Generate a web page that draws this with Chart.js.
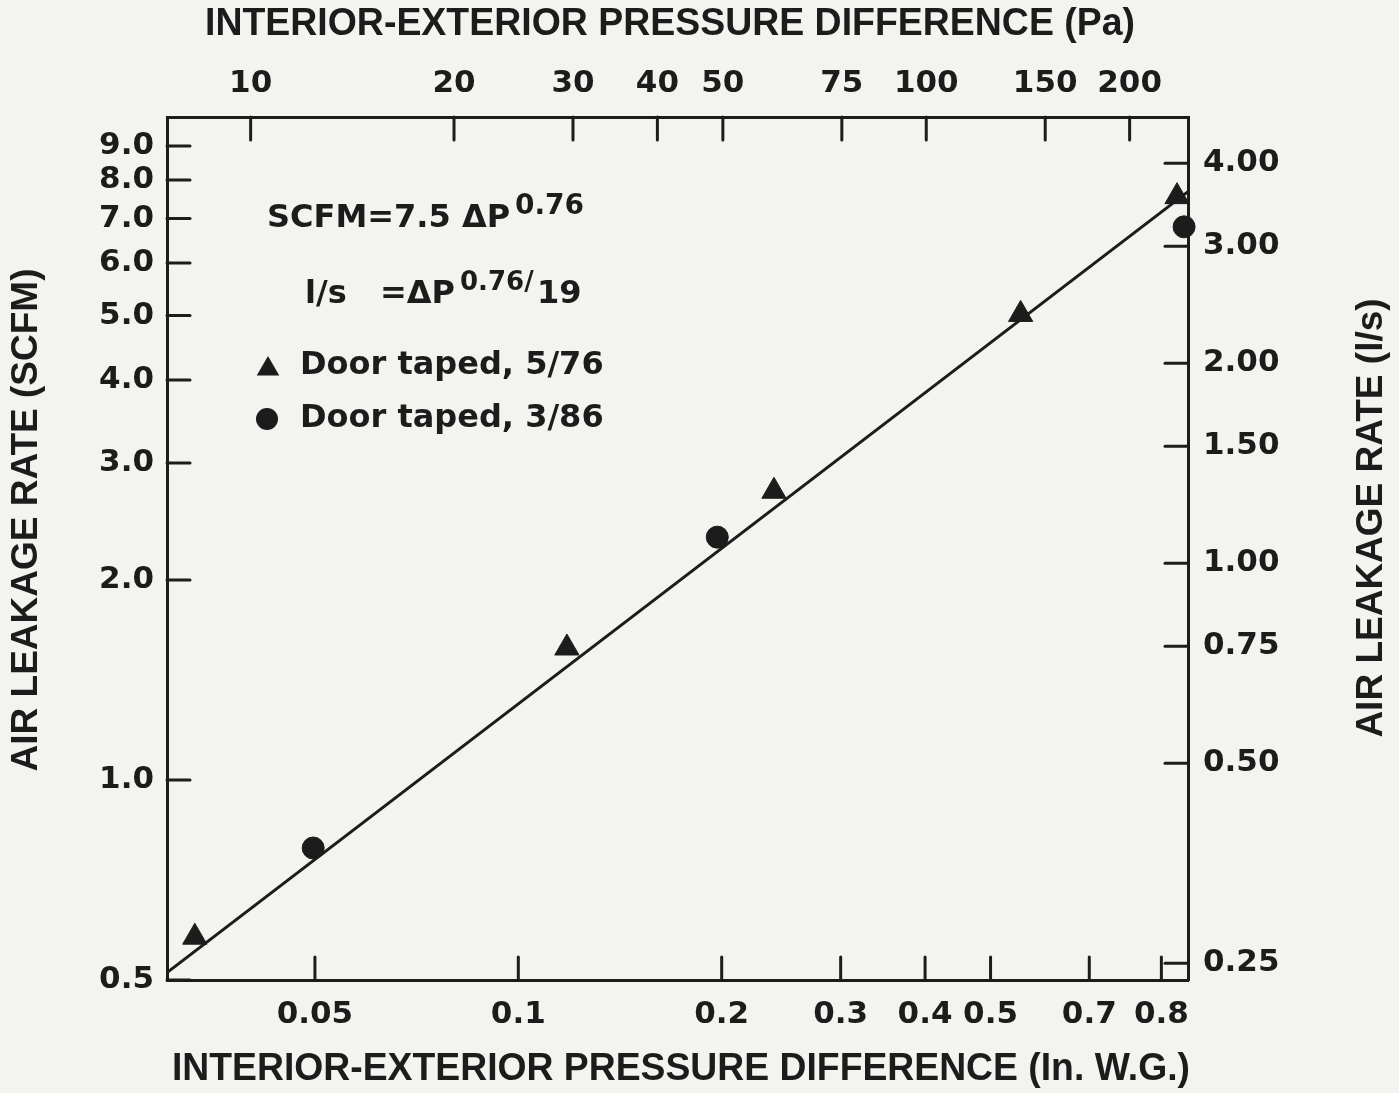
<!DOCTYPE html>
<html>
<head>
<meta charset="utf-8">
<script src="https://cdn.jsdelivr.net/npm/chart.js@4.4.0/dist/chart.umd.min.js"></script>
<style>
  html, body { margin: 0; padding: 0; background: #f3f3ef; }
  #contenedor { width: 1399px; height: 1093px; }
</style>
</head>
<body>
<div id="contenedor"><canvas id="grafico" width="1399" height="1093"></canvas></div>
<script>
// measured points (in. W.G. vs SCFM)
const taped76X = [0.0332, 0.118, 0.239, 0.554, 0.944];
const taped76Y = [0.58, 1.58, 2.72, 5.02, 7.55];
const taped86X = [0.0497, 0.197, 0.967];
const taped86Y = [0.79, 2.32, 6.8];
// fitted line end points
const fitX = [0.0302, 0.98];
const fitY = [0.513, 7.68];

// the original's "0.8" mark sits where 0.895 falls on the log axis
const inchTicks = [0.05, 0.1, 0.2, 0.3, 0.4, 0.5, 0.7, 0.895];
const inchLabels = ['0.05', '0.1', '0.2', '0.3', '0.4', '0.5', '0.7', '0.8'];
const paTicks = [10, 20, 30, 40, 50, 75, 100, 150, 200];
const paLabels = ['10', '20', '30', '40', '50', '75', '100', '150', '200'];
const scfmTicks = [0.5, 1, 2, 3, 4, 5, 6, 7, 8, 9];
const scfmLabels = ['0.5', '1.0', '2.0', '3.0', '4.0', '5.0', '6.0', '7.0', '8.0', '9.0'];
const lpsTicks = [0.25, 0.5, 0.75, 1, 1.5, 2, 3, 4];
const lpsLabels = ['0.25', '0.50', '0.75', '1.00', '1.50', '2.00', '3.00', '4.00'];

const inchRange = [0.0302, 0.98];
const scfmRange = [0.5, 9.95];
const PA_PER_INCH = 249;
const LPS_PER_SCFM = 0.4719;

const INK = '#1c1c1c';
const TICK_FONT = { family: 'DejaVu Sans', weight: 'bold', size: 31 };
const TICK_LEN = 23;

function axis(pos, range, ticks, labels, pad, size) {
  return {
    type: 'logarithmic',
    position: pos,
    min: range[0],
    max: range[1],
    afterBuildTicks: s => { s.ticks = ticks.map(v => ({ value: v })); },
    afterFit: s => { if (s.isHorizontal()) s.height = size; else s.width = size; },
    grid: { display: true, drawOnChartArea: false, drawTicks: false },
    border: { display: true, color: INK, width: 3 },
    ticks: {
      autoSkip: false, maxRotation: 0, minRotation: 0, padding: pad,
      color: INK, font: TICK_FONT,
      callback: (v, i) => labels[i]
    },
    title: { display: false }
  };
}

function tri(ctx, x, y, r) {
  ctx.beginPath();
  ctx.moveTo(x, y - r);
  ctx.lineTo(x + r * 0.866, y + r / 2);
  ctx.lineTo(x - r * 0.866, y + r / 2);
  ctx.closePath();
  ctx.fill();
}

const inkPlugin = {
  id: 'ink',
  afterDraw(chart) {
    const ctx = chart.ctx, a = chart.chartArea, sc = chart.scales;
    ctx.save();
    ctx.strokeStyle = INK;
    ctx.fillStyle = INK;
    ctx.lineWidth = 3;
    ctx.lineCap = 'round';

    // inward tick marks
    const marks = (scale, side) => {
      scale.ticks.forEach(t => {
        const p = scale.getPixelForValue(t.value);
        ctx.beginPath();
        if (side === 'bottom') { ctx.moveTo(p, a.bottom); ctx.lineTo(p, a.bottom - TICK_LEN); }
        if (side === 'top') { ctx.moveTo(p, a.top); ctx.lineTo(p, a.top + TICK_LEN); }
        if (side === 'left') { ctx.moveTo(a.left, p); ctx.lineTo(a.left + TICK_LEN, p); }
        if (side === 'right') { ctx.moveTo(a.right, p); ctx.lineTo(a.right - TICK_LEN, p); }
        ctx.stroke();
      });
    };
    marks(sc.x, 'bottom');
    marks(sc.x2, 'top');
    marks(sc.y, 'left');
    marks(sc.y2, 'right');

    // axis titles
    ctx.textAlign = 'center';
    ctx.textBaseline = 'middle';
    ctx.font = 'bold 38px "Liberation Sans"';
    ctx.fillText('INTERIOR-EXTERIOR PRESSURE DIFFERENCE (Pa)', 670, 25, 930);
    ctx.fillText('INTERIOR-EXTERIOR PRESSURE DIFFERENCE (In. W.G.)', 681, 1070, 1018);
    ctx.font = 'bold 37px "Liberation Sans"';
    ctx.save();
    ctx.translate(27, 520);
    ctx.rotate(-Math.PI / 2);
    ctx.fillText('AIR LEAKAGE RATE (SCFM)', 0, 0, 505);
    ctx.restore();
    ctx.save();
    ctx.translate(1372, 518);
    ctx.rotate(-Math.PI / 2);
    ctx.fillText('AIR LEAKAGE RATE (l/s)', 0, 0, 447);
    ctx.restore();

    // equations
    ctx.textAlign = 'left';
    ctx.textBaseline = 'alphabetic';
    const big = 'bold 32px "DejaVu Sans"', sup = 'bold 28px "DejaVu Sans"', sup2 = 'bold 26px "DejaVu Sans"';
    ctx.font = big;
    ctx.fillText('SCFM=7.5 \u0394P', 267, 227);
    ctx.font = sup;
    ctx.fillText('0.76', 515, 214);
    ctx.font = big;
    ctx.fillText('l/s', 305, 303);
    ctx.fillText('=\u0394P', 380, 303);
    ctx.font = sup2;
    ctx.fillText('0.76/', 460, 290);
    ctx.font = big;
    ctx.fillText('19', 537, 303);

    // legend
    tri(ctx, 268, 369, 13);
    ctx.fillText('Door taped, 5/76', 300, 374);
    ctx.beginPath();
    ctx.arc(267, 419, 11, 0, Math.PI * 2);
    ctx.fill();
    ctx.fillText('Door taped, 3/86', 300, 427);
    ctx.restore();
  }
};

const graph = document.getElementById('grafico');
const myChart = new Chart(graph, {
  type: 'scatter',
  data: {
    datasets: [
      {
        label: 'Fit',
        data: fitX.map((x, i) => ({ x: x, y: fitY[i] })),
        showLine: true,
        borderColor: INK,
        borderWidth: 3,
        pointRadius: 0,
        xAxisID: 'x', yAxisID: 'y'
      },
      {
        label: 'Door taped, 5/76',
        data: taped76X.map((x, i) => ({ x: x, y: taped76Y[i] })),
        pointStyle: 'triangle',
        pointRadius: 14,
        backgroundColor: INK,
        borderColor: INK,
        borderWidth: 1,
        clip: false,
        xAxisID: 'x', yAxisID: 'y'
      },
      {
        label: 'Door taped, 3/86',
        data: taped86X.map((x, i) => ({ x: x, y: taped86Y[i] })),
        pointStyle: 'circle',
        pointRadius: 11,
        backgroundColor: INK,
        borderColor: INK,
        borderWidth: 1,
        clip: false,
        xAxisID: 'x', yAxisID: 'y'
      }
    ]
  },
  options: {
    responsive: false,
    animation: false,
    layout: { padding: 0 },
    plugins: { legend: { display: false }, tooltip: { enabled: false } },
    scales: {
      x: axis('bottom', inchRange, inchTicks, inchLabels, 16, 113),
      x2: axis('top', inchRange.map(v => v * PA_PER_INCH), paTicks, paLabels, 14, 117),
      y: axis('left', scfmRange, scfmTicks, scfmLabels, 13, 167),
      y2: axis('right', scfmRange.map(v => v * LPS_PER_SCFM), lpsTicks, lpsLabels, 15, 211)
    }
  },
  plugins: [inkPlugin]
});
</script>
</body>
</html>
